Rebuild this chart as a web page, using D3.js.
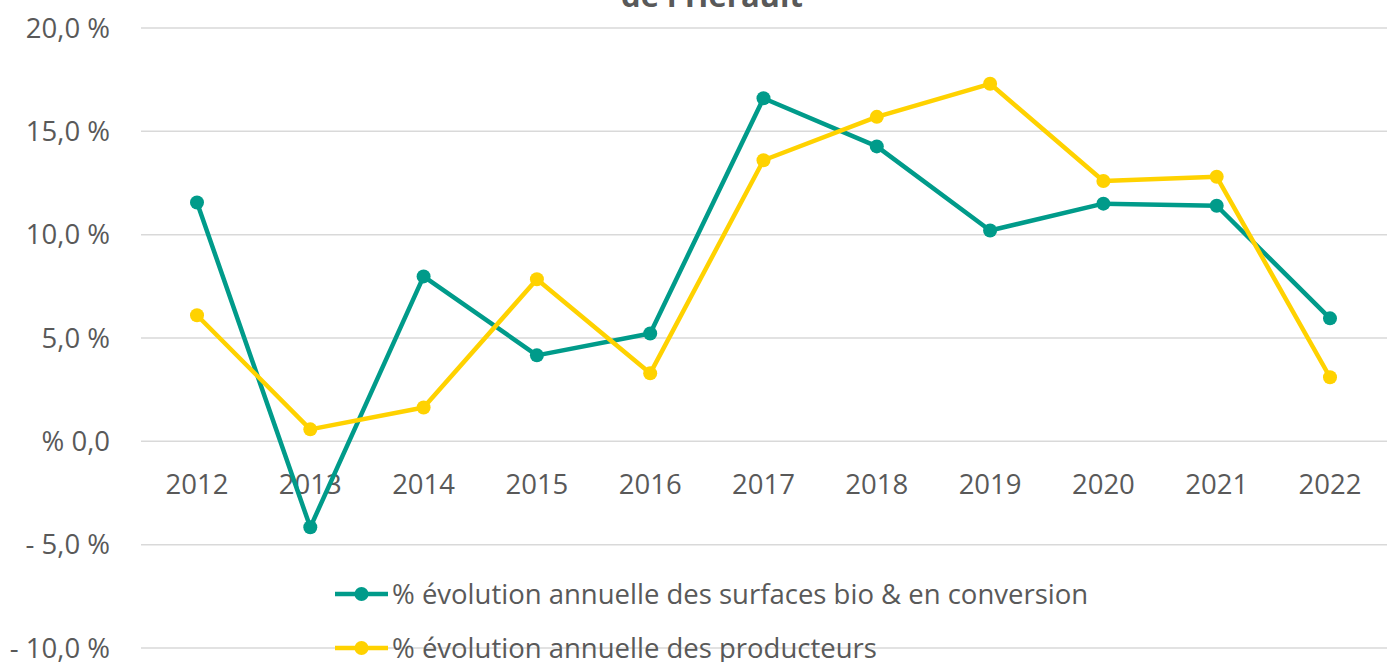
<!DOCTYPE html>
<html>
<head>
<meta charset="utf-8">
<script src="https://cdn.jsdelivr.net/npm/d3@7"></script>
<style>
  html, body { margin: 0; padding: 0; background: #fff; }
  svg { display: block; font-family: "Open Sans", Lato, sans-serif; }
</style>
</head>
<body>
<div id="chart"></div>
<script>
// Data
var years = ['2012', '2013', '2014', '2015', '2016', '2017', '2018', '2019', '2020', '2021', '2022'];
var surfaces = [11.56, -4.16, 7.98, 4.16, 5.22, 16.6, 14.27, 10.2, 11.5, 11.4, 5.95];
var producteurs = [6.1, 0.58, 1.64, 7.84, 3.29, 13.6, 15.7, 17.3, 12.6, 12.8, 3.1];
var yTicks = [-10, -5, 0, 5, 10, 15, 20];
var yTickLabels = ['- 10,0 %', '- 5,0 %', '% 0,0', '5,0 %', '10,0 %', '15,0 %', '20,0 %'];
var seriesNames = [
  '% évolution annuelle des surfaces bio & en conversion',
  '% évolution annuelle des producteurs'
];
var seriesColors = ['#009B8A', '#FFD200'];
var title = "de l'Hérault";

var W = 1396, H = 662;
var svg = d3.select('#chart').append('svg')
  .attr('width', W).attr('height', H);

var x = d3.scalePoint().domain(years).range([197, 1330]);
var y = d3.scaleLinear().domain([-10, 20]).range([648, 28]);
var left = 141, right = 1387;

// Gridlines
svg.append('g').selectAll('line')
  .data(yTicks)
  .join('line')
  .attr('x1', left).attr('x2', right)
  .attr('y1', function (d) { return y(d); })
  .attr('y2', function (d) { return y(d); })
  .attr('stroke', '#d9d9d9')
  .attr('stroke-width', 1.5);

// Y labels
svg.append('g').selectAll('text')
  .data(yTicks)
  .join('text')
  .attr('x', 110)
  .attr('y', function (d) { return y(d); })
  .attr('dy', '0.35em')
  .attr('text-anchor', 'end')
  .attr('font-size', '27.5px')
  .attr('fill', '#595959')
  .text(function (d, i) { return yTickLabels[i]; });

// X labels
svg.append('g').selectAll('text')
  .data(years)
  .join('text')
  .attr('x', function (d) { return x(d); })
  .attr('y', 484)
  .attr('dy', '0.35em')
  .attr('text-anchor', 'middle')
  .attr('font-size', '27.5px')
  .attr('fill', '#595959')
  .text(function (d) { return d; });

// Title (cut off at top, as in the source)
svg.append('text')
  .attr('x', 712).attr('y', 7)
  .attr('text-anchor', 'middle')
  .attr('font-size', '31px')
  .attr('font-weight', 'bold')
  .attr('fill', '#595959')
  .text(title);

var line = d3.line()
  .x(function (d, i) { return x(years[i]); })
  .y(function (d) { return y(d); });

[surfaces, producteurs].forEach(function (vals, k) {
  var g = svg.append('g');
  g.append('path')
    .datum(vals)
    .attr('d', line)
    .attr('fill', 'none')
    .attr('stroke', seriesColors[k])
    .attr('stroke-width', 4.5)
    .attr('stroke-linejoin', 'round');
  g.selectAll('circle')
    .data(vals)
    .join('circle')
    .attr('cx', function (d, i) { return x(years[i]); })
    .attr('cy', function (d) { return y(d); })
    .attr('r', 7)
    .attr('fill', seriesColors[k]);
});

// Legend
var legend = svg.append('g').selectAll('g')
  .data(seriesNames)
  .join('g')
  .attr('transform', function (d, i) { return 'translate(335,' + (594 + i * 54) + ')'; });
legend.append('line')
  .attr('x1', 0).attr('x2', 53)
  .attr('stroke', function (d, i) { return seriesColors[i]; })
  .attr('stroke-width', 4.5);
legend.append('circle')
  .attr('cx', 26.5).attr('r', 7)
  .attr('fill', function (d, i) { return seriesColors[i]; });
legend.append('text')
  .attr('x', 57)
  .attr('dy', '0.35em')
  .attr('font-size', '27.5px')
  .attr('fill', '#595959')
  .text(function (d) { return d; });
</script>
</body>
</html>
